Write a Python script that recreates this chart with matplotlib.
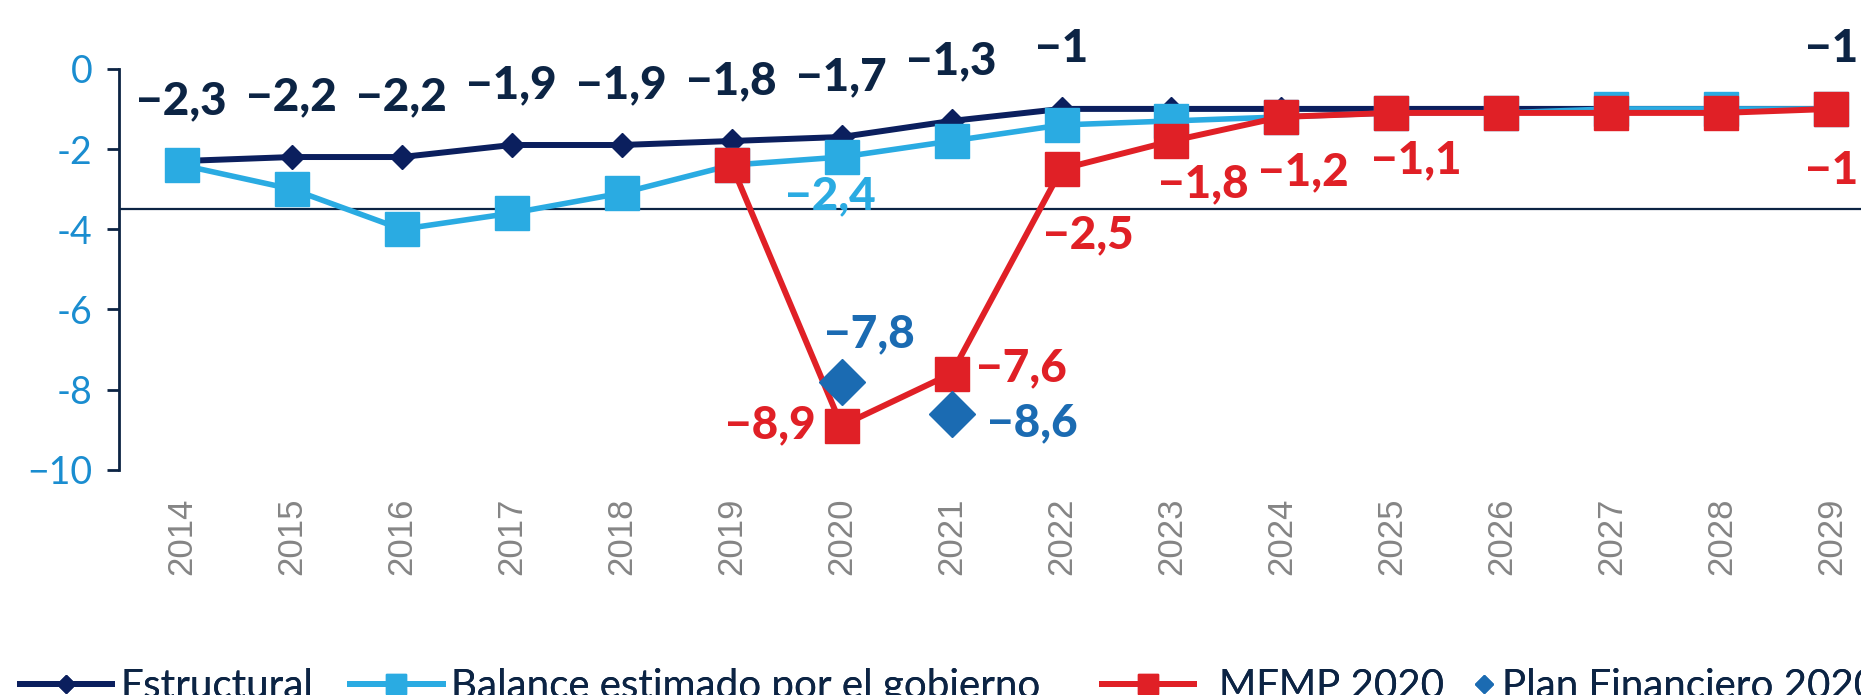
import matplotlib
matplotlib.use("Agg")
import matplotlib.pyplot as plt
from matplotlib.lines import Line2D

years = [2014, 2015, 2016, 2017, 2018, 2019, 2020, 2021, 2022, 2023, 2024, 2025, 2026, 2027, 2028, 2029]
estructural = [-2.3, -2.2, -2.2, -1.9, -1.9, -1.8, -1.7, -1.3, -1.0, -1.0, -1.0, -1.0, -1.0, -1.0, -1.0, -1.0]
balance_gob = [-2.4, -3.0, -4.0, -3.6, -3.1, -2.4, -2.2, -1.8, -1.4, -1.3, -1.2, -1.1, -1.1, -1.0, -1.0, -1.0]
mfmp_years = [2019, 2020, 2021, 2022, 2023, 2024, 2025, 2026, 2027, 2028, 2029]
mfmp_2020 = [-2.4, -8.9, -7.6, -2.5, -1.8, -1.2, -1.1, -1.1, -1.1, -1.1, -1.0]
plan_years = [2020, 2021]
plan_fin = [-7.8, -8.6]
limite = -3.5

# data labels: (year, value, text) and offsets in points
lab_estr = [(2014, -2.3, "−2,3"), (2015, -2.2, "−2,2"), (2016, -2.2, "−2,2"),
            (2017, -1.9, "−1,9"), (2018, -1.9, "−1,9"), (2019, -1.8, "−1,8"),
            (2020, -1.7, "−1,7"), (2021, -1.3, "−1,3"), (2022, -1.0, "−1"),
            (2029, -1.0, "−1")]
lab_mfmp = [(2020, -8.9, "−8,9", -51, 0), (2021, -7.6, "−7,6", 50, 4),
            (2022, -2.5, "−2,5", 19, -48), (2023, -1.8, "−1,8", 23, -31),
            (2024, -1.2, "−1,2", 16, -40), (2025, -1.1, "−1,1", 18, -34),
            (2029, -1.0, "−1", 0, -45)]
lab_plan = [(2020, -7.8, "−7,8", 20, 34), (2021, -8.6, "−8,6", 58, -7)]
lab_bal = [(2020, -2.2, "−2,4", -8, -28)]

navy = "#0b1f5e"
navy_txt = "#0c2444"
light = "#2aabe2"
red = "#e02026"
blue = "#1b6bb2"

plt.rcParams['font.family'] = ['Lato', 'DejaVu Sans']

fig = plt.figure(figsize=(18.61, 6.95), dpi=100)
ax = fig.add_axes([0.064, 0.324, 0.936, 0.577])

xi = {y: i for i, y in enumerate(years)}

ax.axhline(limite, color=navy_txt, lw=1.6, zorder=1)

ax.plot([xi[y] for y in years], estructural, color=navy, lw=4.3, marker="D", ms=12, zorder=2, clip_on=False)
ax.plot([xi[y] for y in years], balance_gob, color=light, lw=4.0, marker="s", ms=25, zorder=3, clip_on=False)
ax.plot([xi[y] for y in mfmp_years], mfmp_2020, color=red, lw=4.3, marker="s", ms=25, zorder=4, clip_on=False)
ax.plot([xi[y] for y in plan_years], plan_fin, color=blue, lw=0, marker="D", ms=23, zorder=5, clip_on=False)

lbl = dict(fontsize=33, fontweight="black", ha="center", va="center", textcoords="offset points")
for y, v, t in lab_estr:
    ax.annotate(t, (xi[y], v), xytext=(0, 43), color=navy_txt, **lbl)
for y, v, t, dx, dy in lab_mfmp:
    ax.annotate(t, (xi[y], v), xytext=(dx, dy), color=red, **lbl)
for y, v, t, dx, dy in lab_plan:
    ax.annotate(t, (xi[y], v), xytext=(dx, dy), color=blue, **lbl)
for y, v, t, dx, dy in lab_bal:
    ax.annotate(t, (xi[y], v), xytext=(dx, dy), color=light, **lbl)

ax.set_xlim(-0.57, 15.27)
ax.set_ylim(-10, 0)
ax.set_yticks([-10, -8, -6, -4, -2, 0])
ax.set_yticklabels(["−10", "-8", "-6", "-4", "-2", "0"])
ax.set_xticks(range(len(years)))
ax.set_xticklabels([str(y) for y in years], rotation=90, color="#858585",
                   fontsize=25, family=["Liberation Sans"])
ax.tick_params(axis="x", length=0, pad=20)
ax.tick_params(axis="y", colors=navy_txt, labelcolor="#1a8dd0", labelsize=27,
               length=9, width=2, pad=10)
for s in ["top", "right", "bottom"]:
    ax.spines[s].set_visible(False)
ax.spines["left"].set_color(navy_txt)
ax.spines["left"].set_linewidth(2)

# legend: one small legend per entry so each can sit where the original has it
entries = [
    (Line2D([], [], color=navy, lw=4.3, marker="D", ms=9), "Estructural", 0.0105, 2.3, 0.2),
    (Line2D([], [], color=light, lw=4.3, marker="s", ms=14), "Balance estimado por el gobierno", 0.188, 2.3, 0.2),
    (Line2D([], [], color=red, lw=4.3, marker="s", ms=14), "MFMP 2020", 0.592, 2.3, 0.6),
    (Line2D([], [], color=blue, lw=0, marker="D", ms=9), "Plan Financiero 2020", 0.792, 0.5, 0.2),
]
for h, name, x0, hl, tp in entries:
    leg = fig.legend([h], [name], loc="center left", bbox_to_anchor=(x0, 0.012), frameon=False,
                     fontsize=29, labelcolor=navy_txt, handlelength=hl, handletextpad=tp,
                     borderpad=0, borderaxespad=0)
    fig.add_artist(leg)

fig.savefig("out.png", dpi=100)
